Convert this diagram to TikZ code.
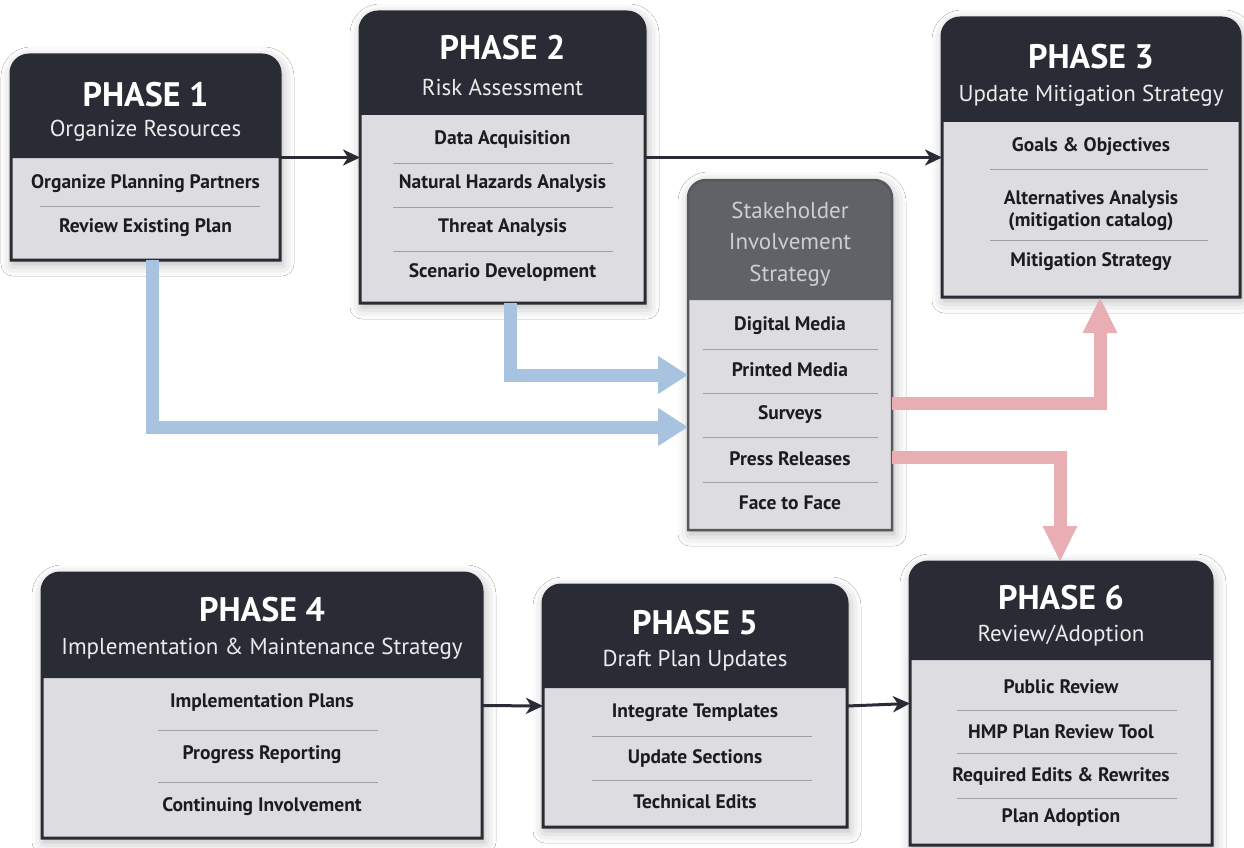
\documentclass[tikz,border=0pt]{standalone}
\usepackage{fontspec}
\newfontfamily\cond{PT Sans}
\usetikzlibrary{arrows.meta,shadows.blur}
\definecolor{hdrdark}{HTML}{2A2C35}
\definecolor{bodygray}{HTML}{DCDCE1}
\definecolor{sephue}{HTML}{A0A0A4}
\definecolor{skhead}{HTML}{5F6266}
\definecolor{skframe}{HTML}{56585C}
\definecolor{sktext}{HTML}{CDCED0}
\definecolor{flowblue}{HTML}{A8C3DF}
\definecolor{flowpink}{HTML}{E8AEB4}
\definecolor{itemink}{HTML}{1C1C20}
\tikzset{
  boxbody/.style={fill=bodygray, blur shadow={shadow xshift=2pt, shadow yshift=-4pt, shadow blur radius=12pt, shadow opacity=30}},
  sepline/.style={draw=sephue, line width=1pt},
  phasetitle/.style={text=white, font=\cond\bfseries\fontsize{34}{36}\selectfont, inner sep=0pt},
  phasesub/.style={text=white!92!black, font=\cond\fontsize{23}{25}\selectfont, inner sep=0pt},
  sktitle/.style={text=sktext, font=\cond\fontsize{23}{31.5}\selectfont, inner sep=0pt, align=center},
  item/.style={text=itemink, font=\cond\bfseries\fontsize{19.5}{22}\selectfont, inner sep=0pt, align=center},
  flow/.style={draw=hdrdark, line width=3pt, -{Stealth[length=17pt,width=16pt,inset=5pt]}},
  bluearrow/.style={draw=flowblue, line width=13pt, -{Triangle[length=30pt,width=36pt]}},
  pinkarrow/.style={draw=flowpink, line width=13pt, -{Triangle[length=36pt,width=32pt]}},
}
% #1 name, #2 left, #3 top, #4 right, #5 header bottom, #6 bottom, #7 header colour, #8 frame colour, #9 frame width
\newcommand\phbox[9]{%
  \path[boxbody] (#2,#6) [rounded corners=18pt] -- (#2,#3) -- (#4,#3) [sharp corners] -- (#4,#6) -- cycle;
  \fill[#7] (#2,#5) [rounded corners=18pt] -- (#2,#3) -- (#4,#3) [sharp corners] -- (#4,#5) -- cycle;
  \draw[draw=#8, line width=#9] (#2,#6) [rounded corners=18pt] -- (#2,#3) -- (#4,#3) [sharp corners] -- (#4,#6) -- cycle;
  \node[inner sep=0pt, outer sep=0pt, minimum width=#4-#2, minimum height=#6-#3, anchor=north west] (#1) at (#2,#3) {};
}
\begin{document}
\begin{tikzpicture}[x=1pt,y=-1pt]
\useasboundingbox (0,0) rectangle (1244,848);
\fill[white] (0,0) rectangle (1244,848);

% ---------- boxes ----------
\phbox{p1}{11}{55}{280}{158}{260}{hdrdark}{hdrdark}{3pt}
\phbox{p2}{360}{12}{645}{115}{303}{hdrdark}{hdrdark}{3pt}
\phbox{p3}{942}{18}{1240}{122}{297}{hdrdark}{hdrdark}{3pt}
\phbox{sk}{688}{180}{892}{300}{530}{skhead}{skframe}{2.5pt}
\phbox{p4}{42}{573}{482}{678}{838}{hdrdark}{hdrdark}{3pt}
\phbox{p5}{543}{585}{847}{688}{827}{hdrdark}{hdrdark}{3pt}
\phbox{p6}{910}{562}{1212}{660}{845}{hdrdark}{hdrdark}{3pt}

% ---------- Phase 1 ----------
\node[phasetitle] (p1t) at (145.5,95) {PHASE 1};
\node[phasesub] (p1s) at (145.5,131) {Organize Resources};
\node[item] (p1a) at (145.5,184) {Organize Planning Partners};
\node[item] (p1b) at (145.5,228) {Review Existing Plan};
\draw[sepline] (40,206) -- (260,206);

% ---------- Phase 2 ----------
\node[phasetitle] (p2t) at (502.5,48) {PHASE 2};
\node[phasesub] (p2s) at (502.5,87) {Risk Assessment};
\node[item] (p2a) at (502.5,140) {Data Acquisition};
\node[item] (p2b) at (502.5,184) {Natural Hazards Analysis};
\node[item] (p2c) at (502.5,228) {Threat Analysis};
\node[item] (p2d) at (502.5,272) {Scenario Development};
\foreach \yy in {163,207,251} \draw[sepline] (393,\yy) -- (613,\yy);

% ---------- Phase 3 ----------
\node[phasetitle] (p3t) at (1091,57) {PHASE 3};
\node[phasesub] (p3s) at (1091,96) {Update Mitigation Strategy};
\node[item] (p3a) at (1091,147) {Goals \& Objectives};
\node[item] (p3b) at (1091,211) {Alternatives Analysis\\(mitigation catalog)};
\node[item] (p3c) at (1091,262) {Mitigation Strategy};
\foreach \yy in {169,240} \draw[sepline] (990,\yy) -- (1208,\yy);

% ---------- Stakeholder ----------
\node[sktitle] (skt) at (790,244) {Stakeholder\\Involvement\\Strategy};
\node[item] (ska) at (790,326) {Digital Media};
\node[item] (skb) at (790,370) {Printed Media};
\node[item] (skc) at (790,415) {Surveys};
\node[item] (skd) at (790,459) {Press Releases};
\node[item] (ske) at (790,503) {Face to Face};
\foreach \yy in {349,393,437,482} \draw[sepline] (703,\yy) -- (878,\yy);

% ---------- Phase 4 ----------
\node[phasetitle] (p4t) at (262,610) {PHASE 4};
\node[phasesub] (p4s) at (262,649) {Implementation \& Maintenance Strategy};
\node[item] (p4a) at (262,703) {Implementation Plans};
\node[item] (p4b) at (262,755) {Progress Reporting};
\node[item] (p4c) at (262,807) {Continuing Involvement};
\foreach \yy in {730,782} \draw[sepline] (158,\yy) -- (378,\yy);

% ---------- Phase 5 ----------
\node[phasetitle] (p5t) at (695,623) {PHASE 5};
\node[phasesub] (p5s) at (695,661) {Draft Plan Updates};
\node[item] (p5a) at (695,713) {Integrate Templates};
\node[item] (p5b) at (695,758) {Update Sections};
\node[item] (p5c) at (695,802) {Technical Edits};
\foreach \yy in {736,780} \draw[sepline] (592,\yy) -- (812,\yy);

% ---------- Phase 6 ----------
\node[phasetitle] (p6t) at (1061,598) {PHASE 6};
\node[phasesub] (p6s) at (1061,636) {Review/Adoption};
\node[item] (p6a) at (1061,687) {Public Review};
\node[item] (p6b) at (1061,732) {HMP Plan Review Tool};
\node[item] (p6c) at (1061,776) {Required Edits \& Rewrites};
\node[item] (p6d) at (1061,818) {Plan Adoption};
\foreach \yy in {710,753,798} \draw[sepline] (957,\yy) -- (1177,\yy);

% ---------- connectors ----------
\draw[flow] (p1.east) -- (p2.west);
\draw[flow] (p2.east) -- (p3.west);
\draw[flow] (p4.east) -- (p5.west);
\draw[flow] (p5.east) -- (p6.west);

\coordinate (b1) at (152,427);
\coordinate (b2) at (510,375);
\draw[bluearrow] (p1.south -| b1) |- (sk.west |- b1);
\draw[bluearrow] (p2.south -| b2) |- (sk.west |- b2);

\coordinate (r1) at (1100,403);
\coordinate (r2) at (1060,457);
\draw[pinkarrow] (sk.east |- r1) -| (p3.south -| r1);
\draw[pinkarrow] (sk.east |- r2) -| (p6.north -| r2);
\end{tikzpicture}
\end{document}
